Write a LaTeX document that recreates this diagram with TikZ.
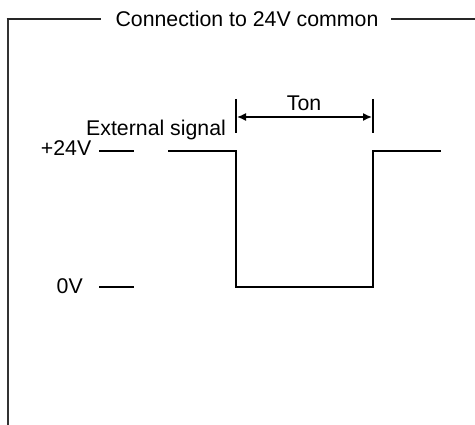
\documentclass[tikz,border=0pt]{standalone}
\usepackage{fontspec}
\setmainfont{Liberation Sans}
\usetikzlibrary{arrows.meta}
\begin{document}
\begin{tikzpicture}[x=1pt,y=-1pt,
  lbl/.style={inner sep=0pt,anchor=base,font=\fontsize{21.3}{25}\selectfont},
  sig/.style={line width=1.8pt,black},
  frm/.style={line width=1.9pt,black!85},
  dim/.style={line width=1.5pt,{Latex[length=9pt,width=8pt]}-{Latex[length=9pt,width=8pt]}}]
\useasboundingbox (0,0) rectangle (475,425);
\fill[white] (0,0) rectangle (475,425);
% frame
\node[lbl] (title) at (247,27) {Connection to 24V common};
\coordinate (fb) at (8,426);
\coordinate (fc) at (8,19);
\coordinate (fl) at (101,19);
\coordinate (fr1) at (391,19);
\coordinate (fr2) at (475,19);
\draw[line width=2.8pt,black!80] (fb) -- (fc);
\draw[frm] (6.6,19) -- (fl);
\draw[frm] (fr1) -- (fr2);
% labels
\node[lbl,anchor=base east] (p24) at (91.5,156) {+24V};
\node[lbl,anchor=base east] (z0) at (83,294) {0V};
\node[lbl,anchor=base west] (ext) at (86,136) {External signal};
\node[lbl] (ton) at (304,111) {Ton};
% level ticks
\coordinate (ha) at (99,151); \coordinate (hb) at (134,151);
\coordinate (la) at (99,287); \coordinate (lb) at (134,287);
\draw[sig] (ha) -- (hb);
\draw[sig] (la) -- (lb);
% signal
\coordinate (s0) at (168,151);
\coordinate (s1) at (236,151);
\coordinate (s2) at (236,287);
\coordinate (s3) at (373,287);
\coordinate (s4) at (373,151);
\coordinate (s5) at (441,151);
\draw[sig] (s0) -- (s1) -- (s2) -- (s3) -- (s4) -- (s5);
% Ton dimension
\coordinate (t1a) at (236,99); \coordinate (t1b) at (236,133);
\coordinate (t2a) at (373,99); \coordinate (t2b) at (373,133);
\draw[sig] (t1a) -- (t1b);
\draw[sig] (t2a) -- (t2b);
\coordinate (d1) at (237,117); \coordinate (d2) at (372,117);
\draw[dim] (d1) -- (d2);
\end{tikzpicture}
\end{document}
